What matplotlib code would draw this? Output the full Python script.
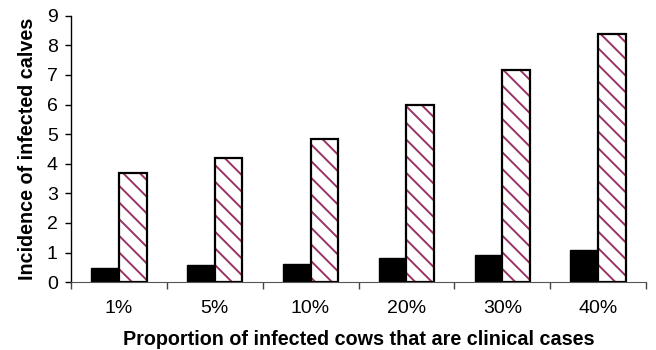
import matplotlib
matplotlib.use("Agg")
import matplotlib.pyplot as plt
import numpy as np

plt.rcParams['font.family'] = ['Liberation Sans', 'DejaVu Sans']
plt.rcParams['hatch.linewidth'] = 1.4

categories = ["1%", "5%", "10%", "20%", "30%", "40%"]
clinical = [0.49, 0.57, 0.62, 0.80, 0.91, 1.09]
subclinical = [3.69, 4.20, 4.82, 5.98, 7.18, 8.39]

fig = plt.figure(figsize=(6.56, 3.5), dpi=100)
ax = fig.add_axes([0.108, 0.194, 0.877, 0.761])

x = np.arange(len(categories))
w = 0.29
maroon = '#993366'

ax.bar(x - w / 2, clinical, width=w, color='black', edgecolor='black', linewidth=1.0)
# hatched fill, then a black outline on top
ax.bar(x + w / 2, subclinical, width=w, color='white', edgecolor=maroon,
       hatch='\\\\', linewidth=0)
ax.bar(x + w / 2, subclinical, width=w, fill=False, edgecolor='black', linewidth=1.6)

ax.set_xlim(-0.5, len(categories) - 0.5)
ax.set_ylim(0, 9)
ax.set_yticks(range(10))
ax.tick_params(axis='y', labelsize=14, length=4.5, width=1, direction='out', pad=5)

ax.set_xticks(x)
ax.set_xticklabels(categories)
ax.set_xticks(np.arange(-0.5, len(categories)), minor=True)
ax.tick_params(axis='x', which='major', length=0, labelsize=14, pad=13)
ax.tick_params(axis='x', which='minor', length=5, width=1, color='#444444')

ax.spines['top'].set_visible(False)
ax.spines['right'].set_visible(False)
ax.spines['bottom'].set_color('#555555')
ax.spines['left'].set_linewidth(1.0)

ax.set_xlabel("Proportion of infected cows that are clinical cases",
              fontsize=14.2, fontweight='bold', labelpad=9)
ax.set_ylabel("Incidence of infected calves", fontsize=14.2, fontweight='bold',
              labelpad=7)

fig.savefig("out.png", dpi=100)
